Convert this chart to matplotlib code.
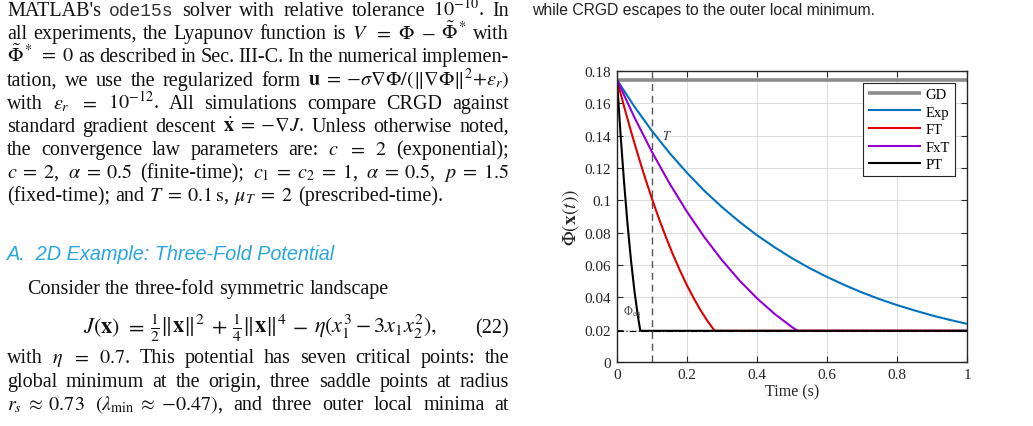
import numpy as np
import matplotlib
matplotlib.use('Agg')
import matplotlib.pyplot as plt
from matplotlib.ticker import FormatStrFormatter

plt.rcParams.update({
    'font.family': 'serif',
    'font.serif': ['Liberation Serif', 'DejaVu Serif'],
    'mathtext.fontset': 'stix',
})

W, H = 1033, 427

# ---- data ----
t_gd = [0.0, 1.0]
phi_gd = [0.1745, 0.1745]

t_exp = [0.0, 0.05, 0.10, 0.15, 0.20, 0.25, 0.30, 0.35, 0.40, 0.45, 0.50,
         0.55, 0.60, 0.65, 0.70, 0.75, 0.80, 0.85, 0.90, 0.95, 1.00]
phi_exp = [0.1745, 0.1579, 0.1429, 0.1293, 0.1170, 0.1058, 0.0958, 0.0867,
           0.0784, 0.0710, 0.0642, 0.0581, 0.0526, 0.0476, 0.0430, 0.0389,
           0.0352, 0.0319, 0.0288, 0.0261, 0.0236]

t_ft = [0.0, 0.02, 0.04, 0.06, 0.08, 0.10, 0.12, 0.14, 0.16, 0.18, 0.20,
        0.22, 0.24, 0.26, 0.279, 1.0]
phi_ft = [0.1745, 0.1582, 0.1427, 0.1280, 0.1140, 0.1009, 0.0886, 0.0771,
          0.0664, 0.0565, 0.0474, 0.0391, 0.0316, 0.0249, 0.0193, 0.0193]

t_fxt = [0.0, 0.05, 0.10, 0.15, 0.20, 0.25, 0.30, 0.35, 0.40, 0.45, 0.50,
         0.516, 1.0]
phi_fxt = [0.1745, 0.1512, 0.1299, 0.1105, 0.0929, 0.0771, 0.0630, 0.0504,
           0.0394, 0.0298, 0.0216, 0.0193, 0.0193]

t_pt = [0.0, 0.01, 0.02, 0.03, 0.04, 0.05, 0.06, 0.0667, 1.0]
phi_pt = [0.1745, 0.1413, 0.1117, 0.0855, 0.0628, 0.0436, 0.0279, 0.0193, 0.0193]

PHI_EQ = 0.0193
T_PRESC = 0.1

labels = ['GD', 'Exp', 'FT', 'FxT', 'PT']
colors = ['#8c8c8c', '#0072BD', '#e00000', '#9400d3', '#000000']

fig = plt.figure(figsize=(W / 100, H / 100), dpi=100)
renderer = fig.canvas.get_renderer()

# ============================================================
# Left column text (justified by hand)
# ============================================================
FS = 14.5
X0, X1 = 7, 509


def sp(s):
    # wider spacing round relations, like LaTeX
    return s.replace(' = ', r'\;=\;').replace(r' \approx ', r'\;\approx\;')


def put_line(tokens, y, x0=X0, x1=X1, justify=True, **kw):
    texts = []
    for tok in tokens:
        if isinstance(tok, tuple):
            s, extra = tok
        else:
            s, extra = tok, {}
        opts = dict(fontsize=FS, va='baseline', ha='left', color='#111111')
        opts.update(kw)
        opts.update(extra)
        texts.append(fig.text(0, 1 - y / H, sp(s), **opts))
    widths = [t.get_window_extent(renderer).width for t in texts]
    if justify and len(texts) > 1:
        gap = (x1 - x0 - sum(widths)) / (len(texts) - 1)
    else:
        gap = 0.25 * FS * 100 / 72
    x = x0
    for t, w in zip(texts, widths):
        t.set_x(x / W)
        x += w + gap


MONO = {'family': 'Liberation Mono', 'fontsize': FS - 1.5, 'color': '#333333'}

put_line(["MATLAB's", ("ode15s", MONO), "solver", "with", "relative",
          "tolerance", r"$10^{-10}$.", "In"], 16)
put_line(["all", "experiments,", "the", "Lyapunov", "function", "is",
          r"$V$", r"$=$", r"$\Phi$", r"$-$", r"$\tilde{\Phi}^*$", "with"], 39)
put_line([r"$\tilde{\Phi}^* = 0$", "as", "described", "in",
          "Sec.", "III-C.", "In", "the", "numerical", "implemen-"], 62)
put_line(["tation,", "we", "use", "the", "regularized", "form",
          r"$\mathbf{u} = {-}\sigma\nabla\Phi/(\Vert\nabla\Phi\Vert^2{+}\epsilon_r)$"], 86)
put_line(["with", r"$\epsilon_r$", r"$=$", r"$10^{-12}$.", "All", "simulations",
          "compare", "CRGD", "against"], 109)
put_line(["standard", "gradient", "descent",
          r"$\dot{\mathbf{x}} = {-}\nabla J$.", "Unless", "otherwise", "noted,"], 132)
put_line(["the", "convergence", "law", "parameters", "are:", r"$c$", r"$=$",
          r"$2$", "(exponential);"], 155)
put_line([r"$c = 2$,", r"$\alpha = 0.5$", "(finite-time);",
          r"$c_1 = c_2 = 1$,", r"$\alpha = 0.5$,", r"$p = 1.5$"], 178)
put_line(["(fixed-time);", "and", r"$T = 0.1\,\mathrm{s}$,", r"$\mu_T = 2$",
          "(prescribed-time)."], 201, justify=False)

fig.text(X0 / W, 1 - 260 / H, "A.  2D Example: Three-Fold Potential",
         fontsize=14.3, family='Liberation Sans', style='italic',
         color='#2aa6df', va='baseline', ha='left')

put_line(["Consider", "the", "three-fold", "symmetric", "landscape"], 294,
         x0=27, justify=False)

put_line([r"$J(\mathbf{x})$", r"$=$", r"$\frac{1}{2}\Vert\mathbf{x}\Vert^2$",
          r"$+$", r"$\frac{1}{4}\Vert\mathbf{x}\Vert^4$", r"$-$",
          r"$\eta(x_1^3 - 3x_1x_2^2),$"], 333, x0=83, x1=437, fontsize=16)
fig.text(X1 / W, 1 - 333 / H, "(22)", fontsize=FS, va='baseline',
         ha='right', color='#111111')

put_line(["with", r"$\eta$", r"$=$", r"$0.7$.", "This", "potential", "has",
          "seven", "critical", "points:", "the"], 363)
put_line(["global", "minimum", "at", "the", "origin,", "three", "saddle",
          "points", "at", "radius"], 387)
put_line([r"$r_s \approx 0.73$", r"$(\lambda_{\mathrm{min}} \approx {-}0.47)$,",
          "and", "three", "outer", "local", "minima", "at"], 410)

# right column caption fragment
fig.text(532 / W, 1 - 15 / H, "while CRGD escapes to the outer local minimum.",
         fontsize=11.3, family='Liberation Sans', color='#222222',
         va='baseline', ha='left')

# ============================================================
# Chart
# ============================================================
ax = fig.add_axes([617 / W, 1 - 363 / H, 350 / W, 291 / H])

series = [(t_gd, phi_gd), (t_exp, phi_exp), (t_ft, phi_ft),
          (t_fxt, phi_fxt), (t_pt, phi_pt)]
widths = [2.6, 1.5, 1.5, 1.5, 1.5]
for (tt, pp), lab, col, lw in zip(series, labels, colors, widths):
    ax.plot(tt, pp, color=col, lw=lw, label=lab, solid_capstyle='butt')

ax.axhline(PHI_EQ, color='black', lw=0.8, dashes=(6, 2, 1, 2), zorder=5)
ax.axvline(T_PRESC, color='#555555', lw=1.0, dashes=(5, 3.5), zorder=1)
ax.text(0.13, 0.140, r'$T$', fontsize=9, color='#333333', va='center')
ax.text(0.018, 0.031, r'$\Phi_{\mathrm{eq}}$', fontsize=8.5,
        color='#555555', va='center')

ax.set_xlim(0, 1)
ax.set_ylim(0, 0.18)
ax.set_xticks(np.arange(0, 1.01, 0.2))
ax.set_yticks(np.arange(0, 0.181, 0.02))
ax.xaxis.set_major_formatter(FormatStrFormatter('%g'))
ax.yaxis.set_major_formatter(FormatStrFormatter('%g'))
ax.tick_params(direction='in', top=True, right=True, length=4, width=0.8,
               color='#262626', labelcolor='#262626', labelsize=11, pad=4)
ax.grid(True, color='#dcdcdc', lw=0.7)
ax.set_axisbelow(True)
for s in ax.spines.values():
    s.set_color('#262626')
    s.set_linewidth(1.0)

ax.set_xlabel('Time (s)', fontsize=11.5, color='#262626', labelpad=2)
ax.set_ylabel(r'$\Phi(\mathbf{x}(t))$', fontsize=14, color='#262626',
              labelpad=3)

leg = ax.legend(loc='upper right', fontsize=10.5, handlelength=3.6,
                handletextpad=0.35, labelspacing=0.3, borderpad=0.35,
                borderaxespad=0.8, fancybox=False, framealpha=1,
                edgecolor='#262626')
leg.get_frame().set_linewidth(0.8)

fig.savefig('out.png', dpi=100)
